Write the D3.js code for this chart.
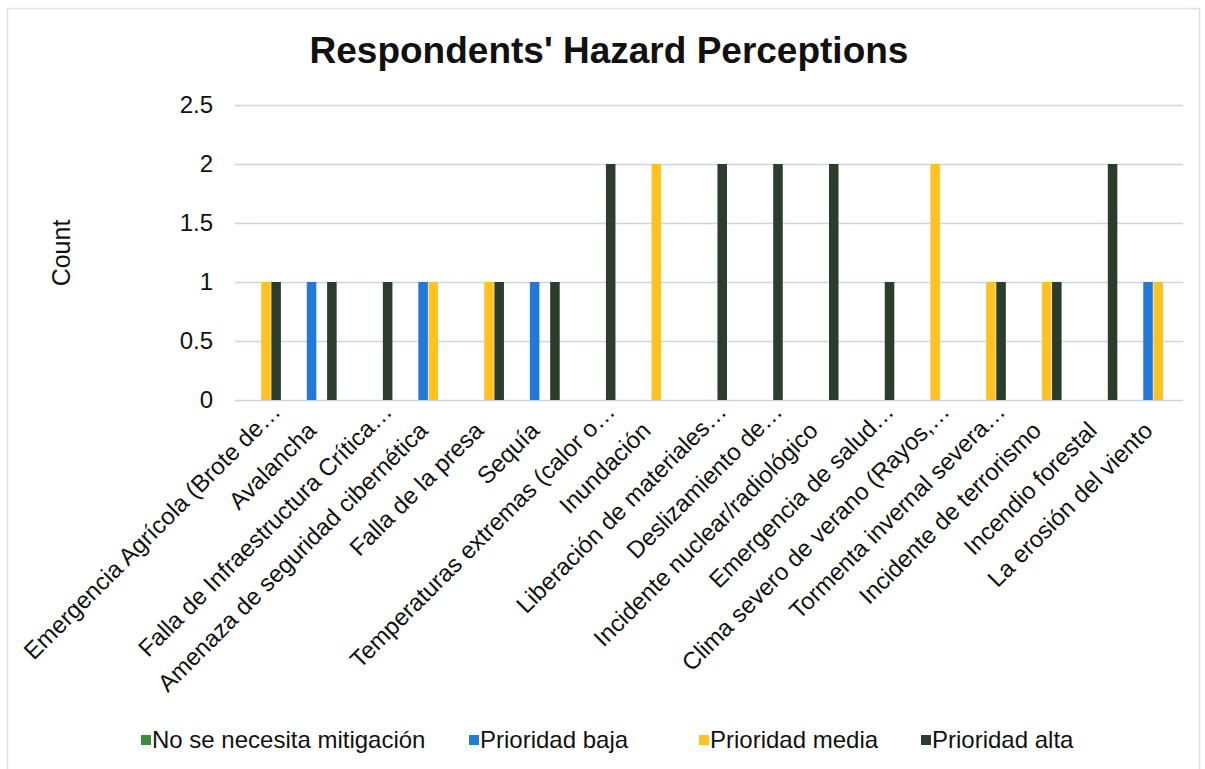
<!DOCTYPE html>
<html>
<head>
<meta charset="utf-8">
<script src="https://cdn.jsdelivr.net/npm/d3@7"></script>
<style>
  html, body { margin: 0; padding: 0; background: #fff; }
  svg { display: block; font-family: "Liberation Sans", Arial, sans-serif; }
</style>
</head>
<body>
<svg id="chart" width="1205" height="769"></svg>
<script>
const categories = [
  "Emergencia Agrícola (Brote de…",
  "Avalancha",
  "Falla de Infraestructura Crítica…",
  "Amenaza de seguridad cibernética",
  "Falla de la presa",
  "Sequía",
  "Temperaturas extremas (calor o…",
  "Inundación",
  "Liberación de materiales…",
  "Deslizamiento de…",
  "Incidente nuclear/radiológico",
  "Emergencia de salud…",
  "Clima severo de verano (Rayos,…",
  "Tormenta invernal severa…",
  "Incidente de terrorismo",
  "Incendio forestal",
  "La erosión del viento"
];
const seriesNames = ["No se necesita mitigación", "Prioridad baja", "Prioridad media", "Prioridad alta"];
const seriesColors = ["#3e8c3e", "#2279d8", "#ffc220", "#2b3d2c"];
const noMitigation = [0,0,0,0,0,0,0,0,0,0,0,0,0,0,0,0,0];
const prioridadBaja = [0,1,0,1,0,1,0,0,0,0,0,0,0,0,0,0,1];
const prioridadMedia = [1,0,0,1,1,0,0,2,0,0,0,0,2,1,1,0,1];
const prioridadAlta = [1,1,1,0,1,1,2,0,2,2,2,1,0,1,1,2,0];
const yTicks = [0, 0.5, 1, 1.5, 2, 2.5];
const titleText = "Respondents' Hazard Perceptions";
const yAxisTitle = "Count";

const seriesValues = [noMitigation, prioridadBaja, prioridadMedia, prioridadAlta];

const svg = d3.select("#chart");

// frame
svg.append("rect").attr("x", 7.5).attr("y", 8.5).attr("width", 1192).attr("height", 770)
  .attr("fill", "none").attr("stroke", "#dde2ea").attr("stroke-width", 1.5);

const x0 = d3.scaleBand().domain(categories).range([233, 1181]).paddingInner(0).paddingOuter(0);
const x1 = d3.scaleBand().domain(seriesNames).range([0, 40]).paddingInner(0.06);
const y = d3.scaleLinear().domain([0, 2.5]).range([400, 105]);

// gridlines
const yAxis = d3.axisLeft(y).tickValues(yTicks).tickSize(-(1183 - 235)).tickPadding(22)
  .tickFormat(d => String(d));
const gy = svg.append("g").attr("transform", "translate(235,0)").call(yAxis);
gy.select(".domain").remove();
gy.selectAll(".tick line").attr("stroke", "#cbd5e3").attr("stroke-width", 1.3);
gy.selectAll(".tick text").attr("font-size", 24).attr("fill", "#111")
  .attr("font-family", "Liberation Sans, Arial, sans-serif");

// bars
const groups = svg.append("g").selectAll("g").data(categories).join("g")
  .attr("transform", d => `translate(${x0(d) + x0.bandwidth() / 2 - 20},0)`);
groups.selectAll("rect")
  .data((c, i) => seriesNames.map((s, j) => ({ s, v: seriesValues[j][i], color: seriesColors[j] })))
  .join("rect")
  .filter(d => d.v > 0)
  .attr("x", d => x1(d.s))
  .attr("width", x1.bandwidth())
  .attr("y", d => y(d.v))
  .attr("height", d => y(0) - y(d.v))
  .attr("fill", d => d.color);

// x labels
const xl = svg.append("g");
categories.forEach(c => {
  const cx = x0(c) + x0.bandwidth() / 2;
  const trunc = c.endsWith("…");
  const ex = trunc ? cx + 21 : cx + 1;
  const ey = trunc ? 413 : 432;
  xl.append("text")
    .attr("transform", `translate(${ex},${ey}) rotate(-45)`)
    .attr("text-anchor", "end")
    .attr("font-size", 24)
    .attr("fill", "#111")
    .text(c);
});

// title
svg.append("text").attr("x", 609).attr("y", 63).attr("text-anchor", "middle")
  .attr("font-size", 37).attr("font-weight", "bold").attr("fill", "#111").text(titleText);

// y axis title
svg.append("text").attr("transform", "translate(70,253) rotate(-90)")
  .attr("text-anchor", "middle").attr("font-size", 25).attr("fill", "#111").text(yAxisTitle);

// legend
const legendX = [141, 469, 699, 921];
const lg = svg.append("g").selectAll("g").data(seriesNames).join("g")
  .attr("transform", (d, i) => `translate(${legendX[i]},740)`);
lg.append("rect").attr("x", 0).attr("y", -5).attr("width", 10).attr("height", 10)
  .attr("fill", (d, i) => seriesColors[i]);
lg.append("text").attr("x", 11).attr("y", 8).attr("font-size", 24).attr("fill", "#111").text(d => d);
</script>
</body>
</html>
